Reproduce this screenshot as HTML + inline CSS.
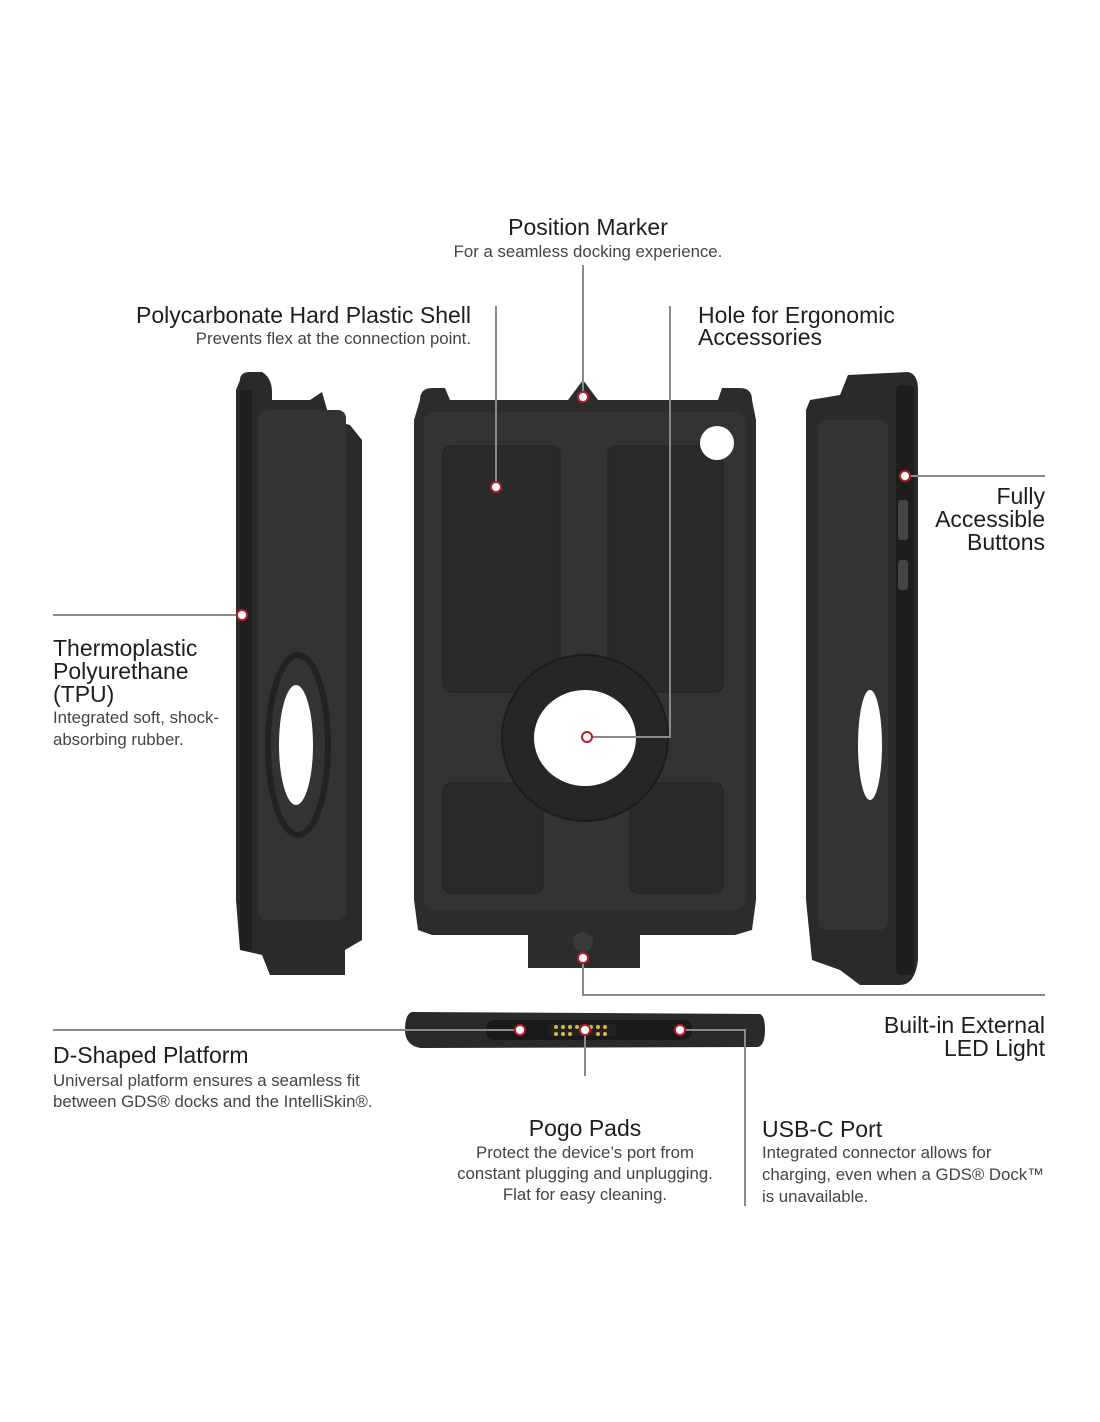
<!DOCTYPE html>
<html><head><meta charset="utf-8"><style>
html,body{margin:0;padding:0;background:#fff;}
svg{display:block}
.t{font-family:"Liberation Sans",sans-serif;font-size:23px;fill:#1e1e1e;}
.d{font-family:"Liberation Sans",sans-serif;font-size:16.8px;fill:#444;}
.l{stroke:#8a8a8a;stroke-width:2;fill:none}
.dot{fill:#fff;stroke:#b3202a;stroke-width:2}
</style></head><body>
<svg width="1100" height="1422" viewBox="0 0 1100 1422" xmlns="http://www.w3.org/2000/svg">
<!-- center case -->
<path d="M420 400 Q420 388 432 388 L445 388 L450 400 L568 400 L583 380 L598 400 L718 400 L722 388 L740 388 Q752 388 752 400 L756 420 L756 900 L752 930 L735 935 L640 935 L640 968 L528 968 L528 935 L432 935 L418 930 L414 900 L414 420 Z" fill="#2c2c2c"/>
<rect x="424" y="412" width="322" height="498" rx="10" fill="#333"/>
<rect x="443" y="446" width="117" height="246" rx="8" fill="#2a2a2a" stroke="#222"/>
<rect x="608" y="446" width="115" height="246" rx="8" fill="#2a2a2a" stroke="#222"/>
<rect x="443" y="783" width="100" height="110" rx="8" fill="#2a2a2a" stroke="#222"/>
<rect x="630" y="783" width="93" height="110" rx="8" fill="#2a2a2a" stroke="#222"/>
<circle cx="585" cy="738" r="83" fill="#262626" stroke="#1c1c1c" stroke-width="2"/>
<ellipse cx="585" cy="738" rx="51" ry="48" fill="#fff"/>
<circle cx="717" cy="443" r="17" fill="#fff"/>
<circle cx="583" cy="942" r="10" fill="#3a3a3a"/>
<!-- left side case -->
<path d="M240 380 Q240 372 250 372 L262 372 Q272 378 272 392 L272 400 L310 400 L322 392 L330 420 L350 425 L362 440 L362 940 L345 950 L345 975 L270 975 L262 955 L240 950 L236 900 L236 390 Z" fill="#2a2a2a"/>
<rect x="258" y="410" width="88" height="510" rx="8" fill="#333"/>
<ellipse cx="296" cy="745" rx="17" ry="60" fill="#fff"/>
<ellipse cx="298" cy="745" rx="30" ry="90" fill="none" stroke="#222" stroke-width="6"/>
<rect x="240" y="390" width="12" height="560" fill="#1f1f1f"/>
<!-- right side case -->
<path d="M810 400 L840 395 L848 375 L908 372 Q918 374 918 390 L918 960 Q915 985 900 985 L860 985 L840 970 L812 960 L806 900 L806 410 Z" fill="#2a2a2a"/>
<rect x="818" y="420" width="70" height="510" rx="8" fill="#333"/>
<ellipse cx="870" cy="745" rx="12" ry="55" fill="#fff"/>
<rect x="896" y="385" width="18" height="590" rx="6" fill="#1d1d1d"/>
<rect x="898" y="500" width="10" height="40" rx="3" fill="#444"/>
<rect x="898" y="560" width="10" height="30" rx="3" fill="#444"/>
<!-- bottom strip -->
<path d="M412 1012 L760 1014 Q765 1016 765 1030 Q765 1045 758 1047 L420 1048 Q405 1045 405 1030 Q405 1014 412 1012 Z" fill="#2a2a2a"/>
<rect x="486" y="1020" width="206" height="20" rx="8" fill="#1a1a1a"/>
<rect x="548" y="1024" width="68" height="12" rx="3" fill="#222"/>
<g fill="#d9b740"><circle cx="556" cy="1027" r="2"/><circle cx="563" cy="1027" r="2"/><circle cx="570" cy="1027" r="2"/><circle cx="577" cy="1027" r="2"/><circle cx="591" cy="1027" r="2"/><circle cx="598" cy="1027" r="2"/><circle cx="605" cy="1027" r="2"/><circle cx="556" cy="1034" r="2"/><circle cx="563" cy="1034" r="2"/><circle cx="570" cy="1034" r="2"/><circle cx="598" cy="1034" r="2"/><circle cx="605" cy="1034" r="2"/></g>
<!-- lines -->
<path class="l" d="M583 265 V393"/>
<path class="l" d="M496 306 V483"/>
<path class="l" d="M670 306 V737 H592"/>
<path class="l" d="M910 476 H1045"/>
<path class="l" d="M53 615 H238"/>
<path class="l" d="M53 1030 H515"/>
<path class="l" d="M583 963 V995 H1045"/>
<path class="l" d="M585 1034 V1076"/>
<path class="l" d="M685 1030 H745 V1206"/>
<!-- dots -->
<circle class="dot" cx="583" cy="397" r="5"/>
<circle class="dot" cx="496" cy="487" r="5"/>
<circle class="dot" cx="587" cy="737" r="5"/>
<circle class="dot" cx="905" cy="476" r="5"/>
<circle class="dot" cx="242" cy="615" r="5"/>
<circle class="dot" cx="520" cy="1030" r="5"/>
<circle class="dot" cx="583" cy="958" r="5"/>
<circle class="dot" cx="585" cy="1030" r="5"/>
<circle class="dot" cx="680" cy="1030" r="5"/>
<!-- texts -->
<text class="t" x="588" y="235" text-anchor="middle">Position Marker</text>
<text class="d" x="588" y="257" text-anchor="middle">For a seamless docking experience.</text>
<text class="t" x="471" y="323" text-anchor="end">Polycarbonate Hard Plastic Shell</text>
<text class="d" x="471" y="344" text-anchor="end">Prevents flex at the connection point.</text>
<text class="t" x="698" y="323">Hole for Ergonomic</text>
<text class="t" x="698" y="345">Accessories</text>
<text class="t" x="1045" y="504" text-anchor="end">Fully</text>
<text class="t" x="1045" y="527" text-anchor="end">Accessible</text>
<text class="t" x="1045" y="550" text-anchor="end">Buttons</text>
<text class="t" x="53" y="656">Thermoplastic</text>
<text class="t" x="53" y="679">Polyurethane</text>
<text class="t" x="53" y="702">(TPU)</text>
<text class="d" x="53" y="723">Integrated soft, shock-</text>
<text class="d" x="53" y="745">absorbing rubber.</text>
<text class="t" x="53" y="1063">D-Shaped Platform</text>
<text class="d" x="53" y="1086">Universal platform ensures a seamless fit</text>
<text class="d" x="53" y="1107">between GDS® docks and the IntelliSkin®.</text>
<text class="t" x="1045" y="1033" text-anchor="end">Built-in External</text>
<text class="t" x="1045" y="1056" text-anchor="end">LED Light</text>
<text class="t" x="585" y="1136" text-anchor="middle">Pogo Pads</text>
<text class="d" x="585" y="1158" text-anchor="middle">Protect the device’s port from</text>
<text class="d" x="585" y="1179" text-anchor="middle">constant plugging and unplugging.</text>
<text class="d" x="585" y="1200" text-anchor="middle">Flat for easy cleaning.</text>
<text class="t" x="762" y="1137">USB-C Port</text>
<text class="d" x="762" y="1158">Integrated connector allows for</text>
<text class="d" x="762" y="1180">charging, even when a GDS® Dock™</text>
<text class="d" x="762" y="1202">is unavailable.</text>
</svg>
</body></html>
